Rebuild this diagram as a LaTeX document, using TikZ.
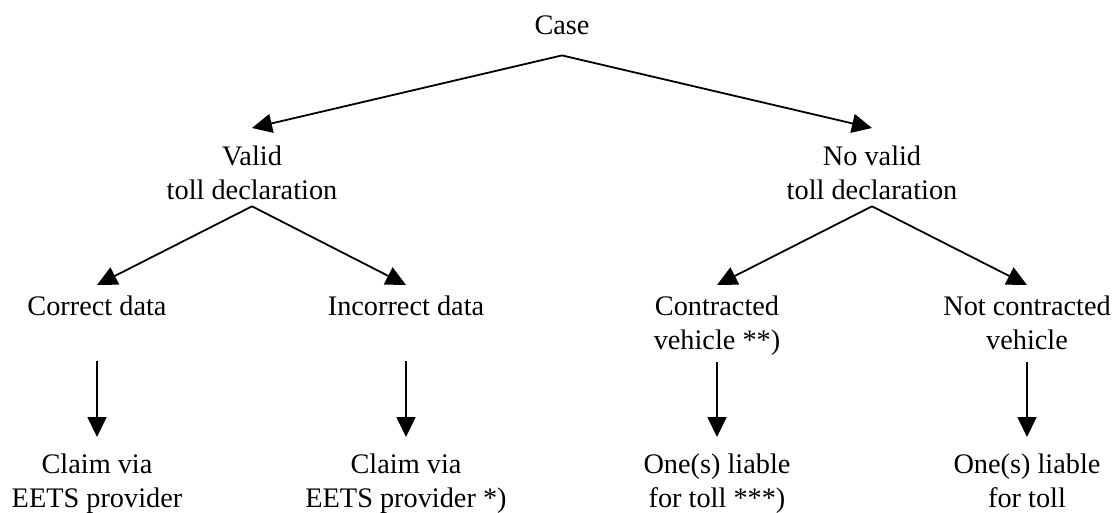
\documentclass[tikz,border=0pt]{standalone}
\usepackage{fontspec}
\setmainfont{Liberation Serif}
\usepackage{tikz}
\usetikzlibrary{arrows.meta}

\tikzset{
  lbl/.style={align=center, inner sep=0pt, anchor=north,
    font=\fontsize{28.3}{34}\selectfont},
  arr/.style={-{Triangle[length=20pt,width=19pt]}, line width=1.8pt}
}

\begin{document}
\begin{tikzpicture}[x=1pt, y=-1pt]
        \useasboundingbox (0,0) rectangle (1117,513);
        % first level
        \node (case) at (562,16) [lbl] {Case};
        \node (valid) at (252,146) [lbl] {Valid\\toll declaration};
        \node (novalid) at (872,146) [lbl] {No valid\\toll declaration};
        % second level
        \node (correct) at (97,296) [lbl] {Correct data};
        \node (incorrect) at (406,296) [lbl] {Incorrect data};
        \node (contracted) at (717,296) [lbl] {Contracted\\vehicle **)};
        \node (notcontracted) at (1027,296) [lbl] {Not contracted\\vehicle};
        % outcomes
        \node (claima) at (97,454) [lbl] {Claim via\\EETS provider};
        \node (claimb) at (406,454) [lbl] {Claim via\\EETS provider *)};
        \node (liablea) at (717,454) [lbl] {One(s) liable\\for toll ***)};
        \node (liableb) at (1027,454) [lbl] {One(s) liable\\for toll};

        \draw[arr] ([yshift=-20pt]case.south) -- ([yshift=18pt]valid.north);
        \draw[arr] ([yshift=-20pt]case.south) -- ([yshift=18pt]novalid.north);
        \draw[arr] ([yshift=-6pt]valid.south) -- ([yshift=11pt]correct.north);
        \draw[arr] ([yshift=-6pt]valid.south) -- ([yshift=11pt]incorrect.north);
        \draw[arr] ([yshift=-6pt]novalid.south) -- ([yshift=11pt]contracted.north);
        \draw[arr] ([yshift=-6pt]novalid.south) -- ([yshift=11pt]notcontracted.north);
        \draw[arr] ([yshift=-45pt]correct.south) -- ([yshift=17pt]claima.north);
        \draw[arr] ([yshift=-45pt]incorrect.south) -- ([yshift=17pt]claimb.north);
        \draw[arr] ([yshift=-6pt]contracted.south) -- ([yshift=17pt]liablea.north);
        \draw[arr] ([yshift=-12pt]notcontracted.south) -- ([yshift=17pt]liableb.north);
    \end{tikzpicture}
\end{document}
